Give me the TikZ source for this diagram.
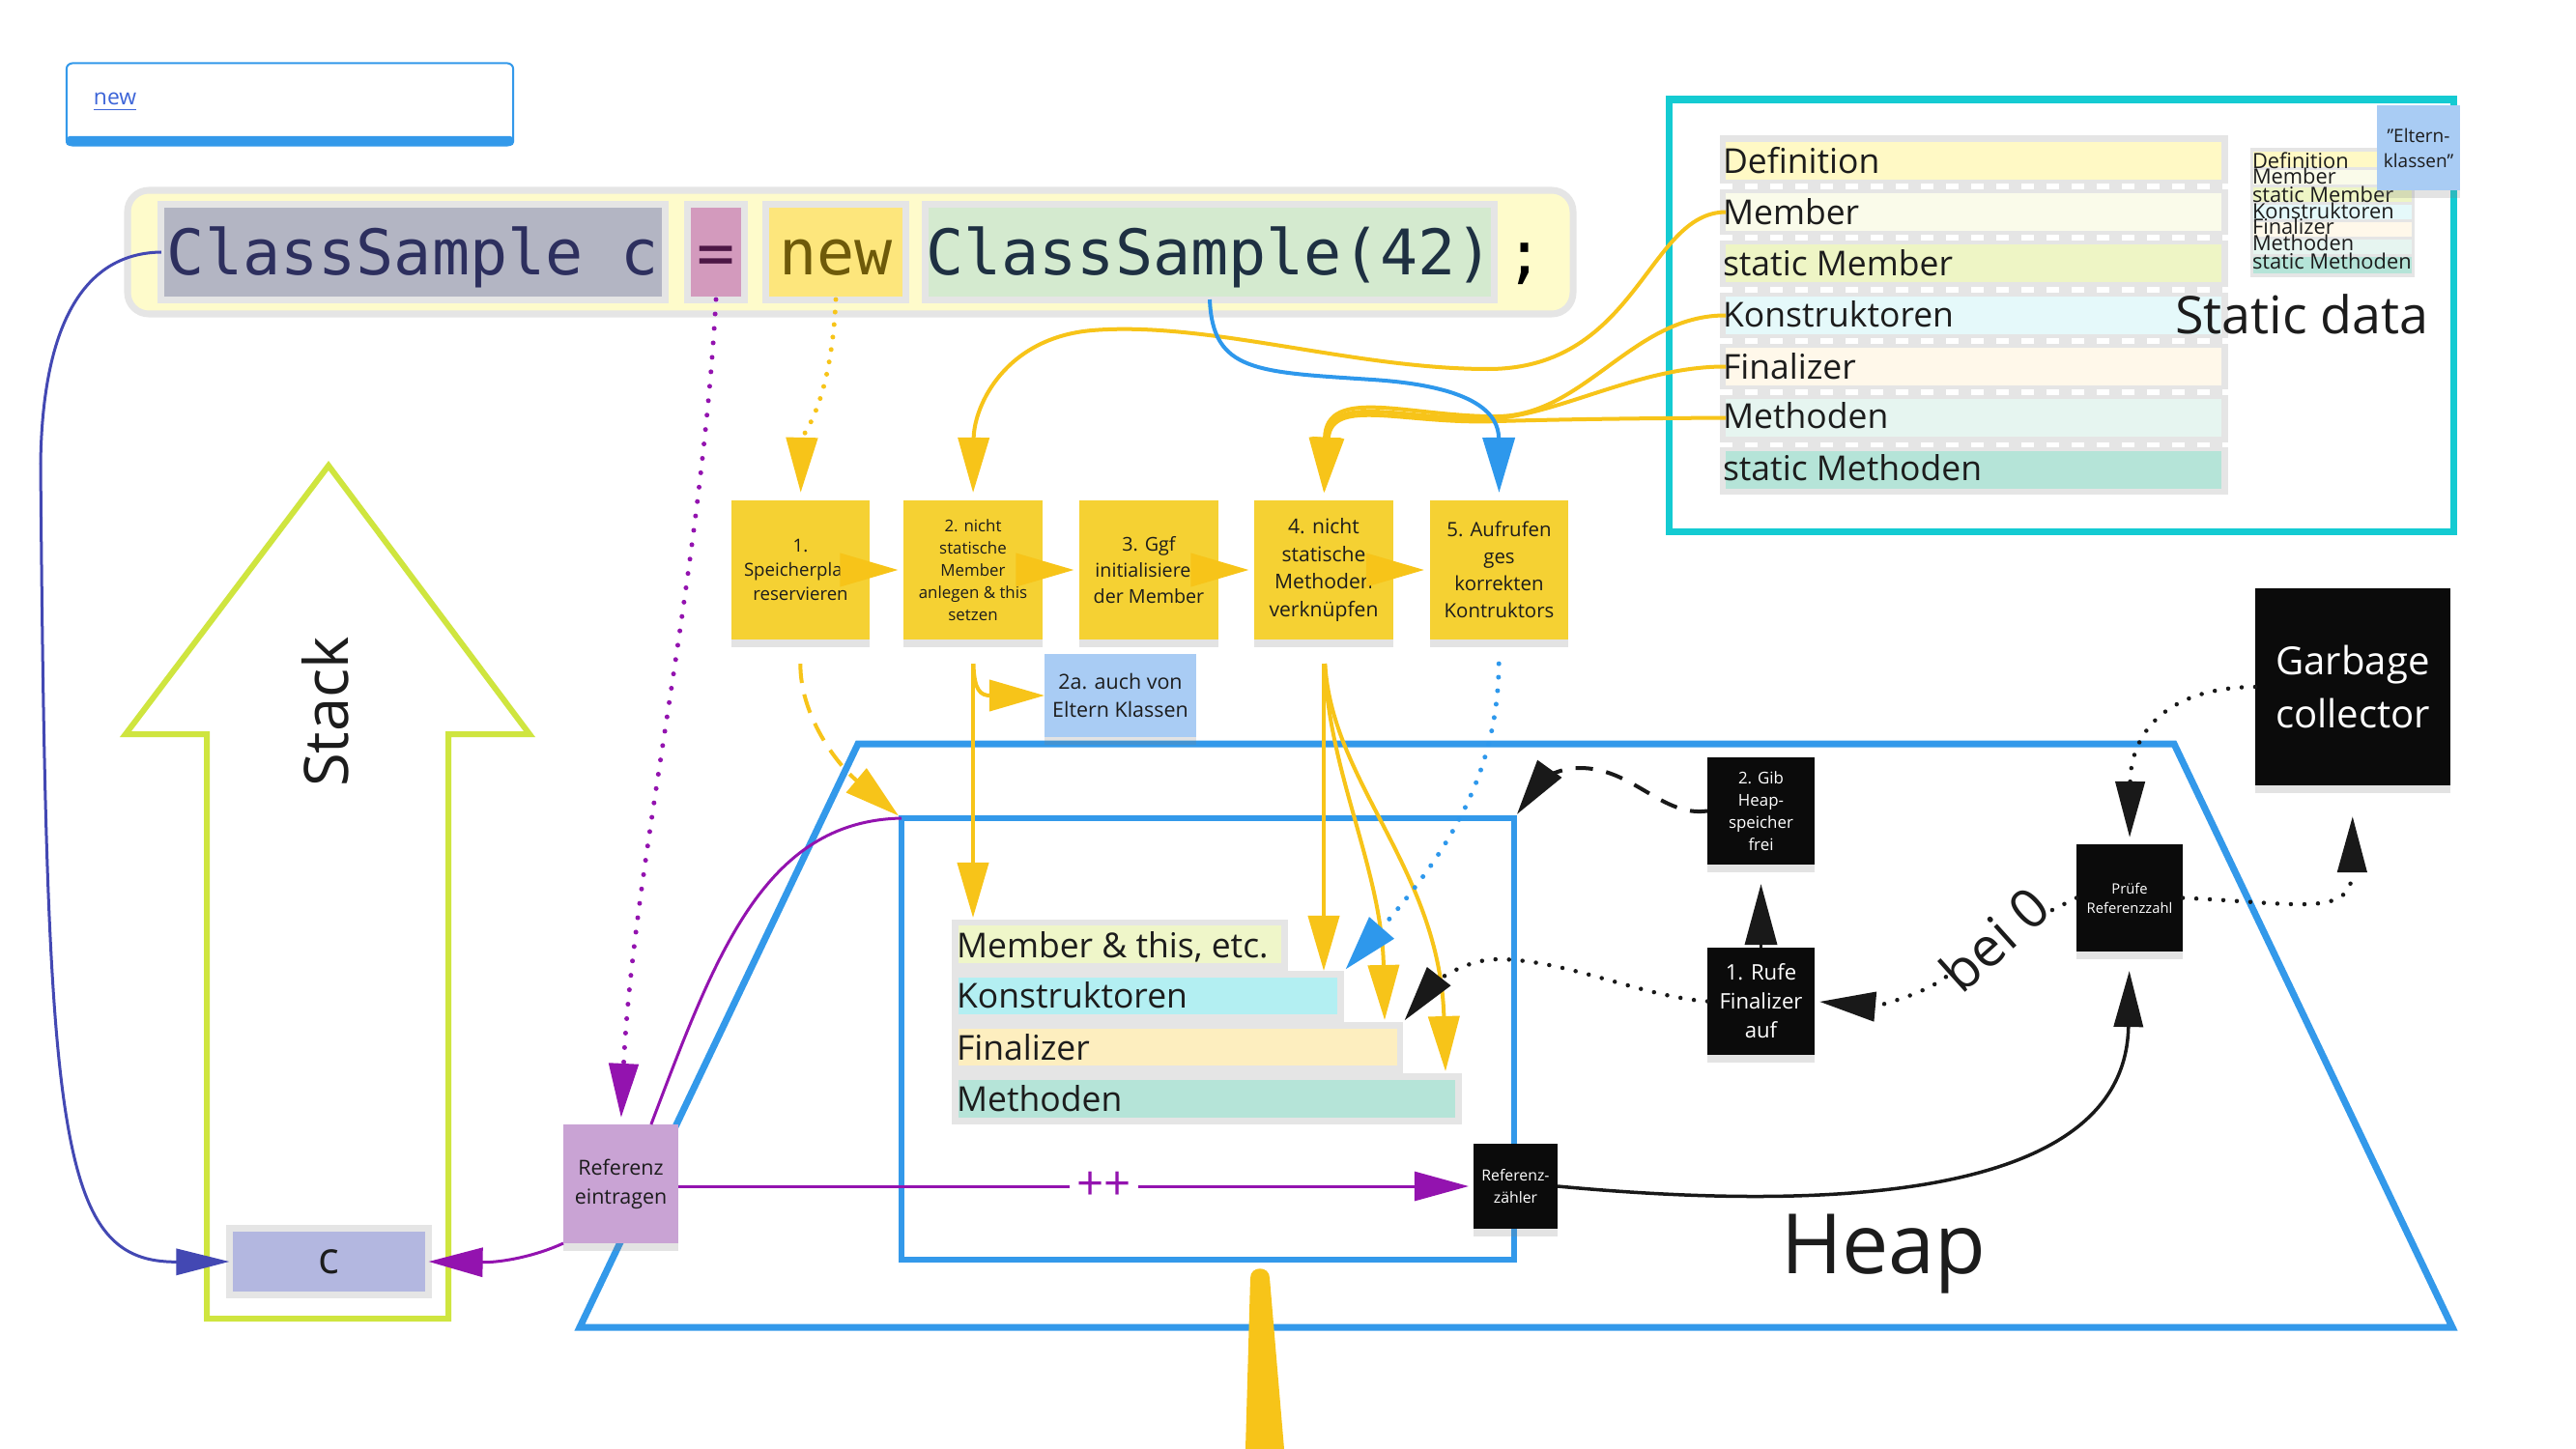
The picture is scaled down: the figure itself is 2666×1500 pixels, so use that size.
\documentclass[tikz,border=0pt]{standalone}
\usepackage{fontspec}
\setmainfont{Open Sans}
\setmonofont{DejaVu Sans Mono}
\usetikzlibrary{arrows.meta,shadows}
\newcommand\fsz[2]{\fontsize{#1pt}{#2pt}\selectfont}
\definecolor{stickyY}{HTML}{F5D133}
\definecolor{conY}{HTML}{F7C419}
\definecolor{blueA}{HTML}{2E98EC}
\definecolor{heapB}{HTML}{3399EA}
\definecolor{purpA}{HTML}{9313AF}
\definecolor{indigoA}{HTML}{4348B3}
\definecolor{tealA}{HTML}{14CBD2}
\definecolor{limeA}{HTML}{CFE53F}
\definecolor{sky}{HTML}{A9CCF4}
\definecolor{lilac}{HTML}{C9A3D4}
\definecolor{ink}{HTML}{0B0B0B}
\definecolor{greyB}{HTML}{E5E5E5}
\definecolor{codeBg}{HTML}{FEFBCB}
\definecolor{csFill}{HTML}{B3B5C3}
\definecolor{eqFill}{HTML}{D39ABD}
\definecolor{newFill}{HTML}{FDE67C}
\definecolor{csFillB}{HTML}{D4EACF}
\definecolor{csText}{HTML}{2D2F5E}
\definecolor{eqText}{HTML}{4D1746}
\definecolor{newText}{HTML}{6E5A0A}
\definecolor{csTextB}{HTML}{1E3042}
\definecolor{cDef}{HTML}{FFF9C5}
\definecolor{cMem}{HTML}{FAFBEA}
\definecolor{cSMem}{HTML}{EEF5C5}
\definecolor{cKon}{HTML}{E5F9FA}
\definecolor{cFin}{HTML}{FFF8EA}
\definecolor{cMet}{HTML}{E6F5F0}
\definecolor{cSMet}{HTML}{B5E4D8}
\definecolor{hMem}{HTML}{EFF6C9}
\definecolor{hKon}{HTML}{B3EFF2}
\definecolor{hFin}{HTML}{FDEEBF}
\definecolor{hMet}{HTML}{B5E4D8}
\definecolor{cBox}{HTML}{B3B7E0}
\definecolor{linkBlue}{HTML}{3C64D8}
\definecolor{txt}{HTML}{1C1C1C}
\begin{document}
\begin{tikzpicture}[x=0.01cm,y=-0.01cm,
  every node/.style={inner sep=0pt, outer sep=0pt, text=txt},
  shad/.style={drop shadow={shadow xshift=0pt,shadow yshift=-2.2pt,opacity=0.22}},
  stickybox/.style={rectangle, align=center, shad},
  stepbox/.style={stickybox, fill=stickyY, minimum width=1.43cm, minimum height=1.44cm},
  darkbox/.style={stickybox, fill=ink, text=white},
  codeseg/.style={rectangle, draw=greyB, line width=0.07cm, minimum height=0.98cm, font=\ttfamily\fsz{18.5}{22}, text height=13.5pt, text depth=0pt},
  rowfill/.style={rectangle, minimum height=0.39cm, anchor=north west},
  listtext/.style={anchor=base west, font=\fsz{10.1}{12}},
  minitext/.style={anchor=base west, font=\fsz{6.2}{7}},
  ycon/.style={draw=conY, line width=0.04cm, -{Triangle[length=0.57cm,width=0.32cm]}},
  yconH/.style={draw=conY, line width=0.04cm, -{Triangle[length=0.6cm,width=0.34cm]}},
  bcon/.style={draw=blueA, line width=0.04cm, -{Triangle[length=0.57cm,width=0.33cm]}},
  pcon/.style={draw=purpA, line width=0.03cm, -{Triangle[length=0.56cm,width=0.3cm]}},
  kcon/.style={draw=black!90, line width=0.035cm, -{Triangle[length=0.58cm,width=0.3cm]}},
  dotline/.style={line cap=round, dash pattern=on 0pt off #1},
]
\fill[white] (0,0) rectangle (2666,1500);
\useasboundingbox (0,0) rectangle (2666,1500);

% ---------- link card ----------
\node[draw=heapB, line width=0.02cm, fill=white, rounded corners=0.06cm, minimum width=4.62cm, minimum height=0.85cm] (card) at (300,108) {};
\fill[heapB, rounded corners=0.04cm] (68,141) rectangle (532,151);
\node[anchor=west, font=\fsz{6.5}{8}, text=linkBlue] (link) at (97,106) {\underline{new}};

% ---------- code line ----------
\draw[greyB, line width=0.07cm, fill=codeBg, rounded corners=0.22cm] (132,197) rectangle (1628,325);
\node[codeseg, fill=csFill, minimum width=5.21cm, text=csText] (csc) at (427.5,261) {ClassSample c};
\node[codeseg, fill=eqFill, minimum width=0.59cm, text=eqText] (eq) at (741,261) {=};
\node[codeseg, fill=newFill, minimum width=1.45cm, text=newText] (newkw) at (865,261) {new};
\node[codeseg, fill=csFillB, minimum width=5.88cm, text=csTextB] (cs42) at (1252,261) {ClassSample(42)};
\node[anchor=base, font=\ttfamily\fsz{18.5}{22}, text=black] (semi) at (1578,285) {;};

% ---------- stack ----------
\draw[limeA, line width=0.06cm, line join=miter] (340,482) -- (548,760) -- (464,760) -- (464,1365) -- (214,1365) -- (214,760) -- (130,760) -- cycle;
\node[rotate=90, font=\fsz{18}{20}] (stacklbl) at (337,737) {Stack};
\node[rectangle, draw=greyB, line width=0.07cm, fill=cBox, minimum width=2.06cm, minimum height=0.69cm, font=\fsz{13}{15}] (cvar) at (340.5,1306) {c};

% ---------- heap ----------
\draw[heapB, line width=0.07cm, line join=miter] (888,770) -- (2250,770) -- (2538,1374) -- (600,1374) -- cycle;
\draw[heapB, line width=0.06cm] (933,847) rectangle (1567,1304);
\coordinate (iTL) at (933,847);
\coordinate (iTR) at (1567,847);
\node[font=\fsz{24.5}{28}, anchor=base west] (heaplbl) at (1843,1318) {Heap};

% heap list
\node[anchor=north west, fill=greyB, minimum width=3.48cm, minimum height=0.53cm] (hrow1) at (985,952) {};
\node[anchor=north west, fill=greyB, minimum width=4.06cm, minimum height=0.53cm] (hrow2) at (985,1005) {};
\node[anchor=north west, fill=greyB, minimum width=4.67cm, minimum height=0.53cm] (hrow3) at (985,1058) {};
\node[anchor=north west, fill=greyB, minimum width=5.28cm, minimum height=0.53cm] (hrow4) at (985,1111) {};
\fill[hMem] (992,958) rectangle (1326,997);
\fill[hKon] (992,1012) rectangle (1384,1050);
\fill[hFin] (992,1065) rectangle (1446,1103);
\fill[hMet] (992,1118) rectangle (1506,1157);
\node[listtext] (ht1) at (990,991) {Member \& this, etc.};
\node[listtext] (ht2) at (990,1043) {Konstruktoren};
\node[listtext] (ht3) at (990,1097) {Finalizer};
\node[listtext] (ht4) at (990,1150) {Methoden};
\coordinate (finTop) at (1433,1056);
\coordinate (metTop) at (1496,1109);

% ---------- static data ----------
\draw[tealA, line width=0.07cm] (1727,103) rectangle (2539,550);
\fill[greyB] (1780,140) rectangle (2306,512);
\node[rowfill, fill=cDef, minimum width=5.13cm] (rDef) at (1786,147) {};
\node[rowfill, fill=cMem, minimum width=5.13cm] (rMem) at (1786,200) {};
\node[rowfill, fill=cSMem, minimum width=5.13cm] (rSMem) at (1786,253) {};
\node[rowfill, fill=cKon, minimum width=5.13cm] (rKon) at (1786,307) {};
\node[rowfill, fill=cFin, minimum width=5.13cm] (rFin) at (1786,360) {};
\node[rowfill, fill=cMet, minimum width=5.13cm] (rMet) at (1786,413) {};
\node[rowfill, fill=cSMet, minimum width=5.13cm] (rSMet) at (1786,467) {};
\foreach \yy in {193,246,300,353,406,460}
  \draw[white, line width=0.05cm, dash pattern=on 0.13cm off 0.13cm] (1780,\yy) -- (2306,\yy);
\node[listtext] (lt1) at (1783,180) {Definition};
\node[listtext] (lt2) at (1783,232) {Member};
\node[listtext] (lt3) at (1783,285) {static Member};
\node[listtext] (lt4) at (1783,338) {Konstruktoren};
\node[listtext] (lt5) at (1783,392) {Finalizer};
\node[listtext] (lt6) at (1783,443) {Methoden};
\node[listtext] (lt7) at (1783,497) {static Methoden};
\node[anchor=base west, font=\fsz{15.3}{18}] (sdlbl) at (2251,345) {Static data};

% mini list
\fill[greyB] (2329,153) rectangle (2499,287);
\fill[cDef] (2332,157) rectangle (2496,173);
\fill[cMem] (2332,176) rectangle (2496,191);
\fill[cSMem] (2332,194) rectangle (2496,209);
\fill[cKon] (2332,212) rectangle (2496,227);
\fill[cFin] (2332,230) rectangle (2496,245);
\fill[cMet] (2332,248) rectangle (2496,263);
\fill[cSMet] (2332,266) rectangle (2496,283);
\node[minitext] (mt1) at (2331,175) {Definition};
\node[minitext] (mt2) at (2331,191) {Member};
\node[minitext] (mt3) at (2331,209) {static Member};
\node[minitext] (mt4) at (2331,227) {Konstruktoren};
\node[minitext] (mt5) at (2331,243) {Finalizer};
\node[minitext] (mt6) at (2331,259) {Methoden};
\node[minitext] (mt7) at (2331,278) {static Methoden};
\node[stickybox, fill=sky, minimum width=0.86cm, minimum height=0.88cm, font=\fsz{5.4}{7.4}] (eltern) at (2503,153) {"Eltern-\\klassen"};

% ---------- steps ----------
\node[stepbox, font=\fsz{5.3}{7.1}] (s1) at (828.5,590) {1.\\Speicherplatz\\reservieren};
\node[stepbox, font=\fsz{4.8}{6.5}] (s2) at (1007,590) {2. nicht\\statische\\Member\\anlegen \& this\\setzen};
\node[stepbox, font=\fsz{5.6}{7.7}] (s3) at (1189,590) {3. Ggf\\initialisieren\\der Member};
\node[stepbox, font=\fsz{6}{8.2}] (s4) at (1370,590) {4. nicht\\statische\\Methoden\\verknüpfen};
\node[stepbox, font=\fsz{5.8}{8}] (s5) at (1551.5,590) {5. Aufrufen\\ges\\korrekten\\Kontruktors};
\node[stickybox, fill=sky, minimum width=1.57cm, minimum height=0.86cm, font=\fsz{6.1}{8.5}] (twoa) at (1159.5,720) {2a. auch von\\Eltern Klassen};

% ---------- other boxes ----------
\node[stickybox, fill=lilac, minimum width=1.19cm, minimum height=1.23cm, font=\fsz{6.1}{8.5}] (ref) at (642.5,1225.5) {Referenz\\eintragen};
\node[darkbox, minimum width=1.11cm, minimum height=1.11cm, font=\fsz{4.8}{6.5}] (gib) at (1822.5,839.5) {2. Gib\\Heap-\\speicher\\frei};
\node[darkbox, minimum width=1.11cm, minimum height=1.11cm, font=\fsz{6.3}{8.5}] (rufe) at (1822.5,1036.5) {1. Rufe\\Finalizer\\auf};
\node[darkbox, minimum width=1.10cm, minimum height=1.11cm, font=\fsz{4.2}{5.7}] (pruefe) at (2204,929.5) {Prüfe\\Referenzzahl};
\node[darkbox, minimum width=0.87cm, minimum height=0.88cm, font=\fsz{4.5}{6.3}] (zaehler) at (1568.5,1228) {Referenz-\\zähler};
\node[darkbox, minimum width=2.02cm, minimum height=2.04cm, font=\fsz{11.4}{15.6}] (gc) at (2435,711) {Garbage\\collector};
\node[rotate=42, font=\fsz{16}{18}] (bei) at (2064,972) {bei 0};

% ---------- connectors ----------
% code -> stack variable
\draw[draw=indigoA, line width=0.03cm, -{Triangle[length=0.55cm,width=0.27cm]}] (csc.west) .. controls (90,262) and (44,330) .. (42,480) .. controls (48,1180) and (60,1307) .. (cvar.west);
% = -> Referenz eintragen
\draw[pcon, line width=0.05cm, dotline=0.15cm, shorten >=0.07cm] (eq.south) .. controls (725,600) and (655,900) .. (ref.north);
% new -> step 1
\draw[ycon, line width=0.05cm, dotline=0.13cm, shorten >=0.08cm] (newkw.south) .. controls (860,420) and (830,450) .. (s1.north);
% Member -> step 2
\draw[ycon, shorten >=0.08cm] (rMem.west) .. controls (1705,220) and (1695,382) .. (1540,382) .. controls (1400,382) and (1250,332) .. (1130,342) .. controls (1040,350) and (1008,420) .. (s2.north);
% Konstruktoren, Finalizer, Methoden -> step 4
\draw[ycon, shorten >=0.08cm] (rKon.west) .. controls (1690,326) and (1640,430) .. (1550,431) .. controls (1460,432) and (1372,398) .. (s4.north);
\draw[ycon, shorten >=0.08cm] (rFin.west) .. controls (1700,379) and (1620,426) .. (1550,433) .. controls (1458,437) and (1375,404) .. (s4.north);
\draw[ycon, shorten >=0.08cm] (rMet.west) .. controls (1700,433) and (1620,434) .. (1550,436) .. controls (1455,440) and (1378,410) .. (s4.north);
% ClassSample(42) -> step 5
\draw[bcon, shorten >=0.08cm] (cs42.south) .. controls (1255,385) and (1300,385) .. (1420,393) .. controls (1530,400) and (1551,430) .. (s5.north);
% step chain
\draw[yconH, shorten >=0.06cm] (s1.east) -- (s2.west);
\draw[yconH, shorten >=0.06cm] (s2.east) -- (s3.west);
\draw[yconH, shorten >=0.06cm] (s3.east) -- (s4.west);
\draw[yconH, shorten >=0.06cm] (s4.east) -- (s5.west);
% step 2 -> 2a, heap
\draw[ycon, shorten <=0.25cm] (s2.south) .. controls (1008,715) and (1015,720) .. (twoa.west);
\draw[ycon, shorten <=0.25cm, shorten >=0.02cm] (s2.south) -- (hrow1.north -| s2.south);
% step 1 -> heap object
\draw[ycon, dash pattern=on 0.2cm off 0.12cm, shorten <=0.25cm, shorten >=0.04cm] (s1.south) .. controls (828,740) and (865,790) .. (iTL);
% step 4 -> heap rows
\draw[ycon, shorten <=0.25cm] (s4.south) -- (hrow2.north -| s4.south);
\draw[ycon, shorten <=0.25cm] (s4.south) .. controls (1375,800) and (1430,900) .. (finTop);
\draw[ycon, shorten <=0.25cm] (s4.south) .. controls (1378,810) and (1490,900) .. (metTop);
% step 5 -> Konstruktoren
\draw[bcon, line width=0.05cm, dotline=0.14cm, shorten <=0.25cm, shorten >=0.02cm] (s5.south) .. controls (1550,800) and (1500,880) .. (hrow2.north east);
% Referenz eintragen
\draw[draw=purpA, line width=0.03cm] (ref.63) .. controls (740,990) and (790,850) .. (iTL);
\draw[pcon] (ref.south west) .. controls (555,1300) and (520,1307) .. (cvar.east);
\draw[pcon, shorten >=0.05cm] (ref.east |- zaehler.west) -- node[pos=0.535, fill=white, inner sep=2pt, font=\fsz{14}{16}, text=purpA] (pp) {++} (zaehler.west);
% reference counter -> check
\draw[kcon, shorten >=0.2cm] (zaehler.east) .. controls (1900,1255) and (2200,1240) .. (pruefe.south);
% garbage collector loop
\draw[kcon, line width=0.045cm, dotline=0.14cm, shorten >=0.07cm] (gc.west) .. controls (2240,712) and (2205,760) .. (pruefe.north);
\draw[kcon, line width=0.045cm, dotline=0.14cm, shorten >=0.32cm] (pruefe.east) .. controls (2380,935) and (2434,950) .. (gc.south);
\draw[black!90, line width=0.045cm, dotline=0.14cm] (pruefe.west) -- (bei);
\draw[kcon, line width=0.045cm, dotline=0.14cm, shorten >=0.05cm] (bei) .. controls (1990,1030) and (1940,1042) .. (rufe.east);
\draw[kcon, -{Triangle[length=0.63cm,width=0.33cm]}, shorten >=0.2cm] (rufe.north) -- (gib.south);
\draw[kcon, line width=0.04cm, dash pattern=on 0.18cm off 0.14cm, shorten >=0.05cm] (gib.west) .. controls (1720,846) and (1690,795) .. (1635,795) .. controls (1605,795) and (1590,815) .. (iTR);
\draw[kcon, line width=0.045cm, dotline=0.14cm, shorten >=0.02cm] (rufe.west) .. controls (1700,1032) and (1620,993) .. (1550,993) .. controls (1510,993) and (1478,1025) .. (hrow3.north east);

% bottom yellow pointer
\fill[conY] (1289,1500) -- (1294,1323) .. controls (1294,1310) and (1314,1310) .. (1314,1323) -- (1329,1500) -- cycle;
\end{tikzpicture}
\end{document}
